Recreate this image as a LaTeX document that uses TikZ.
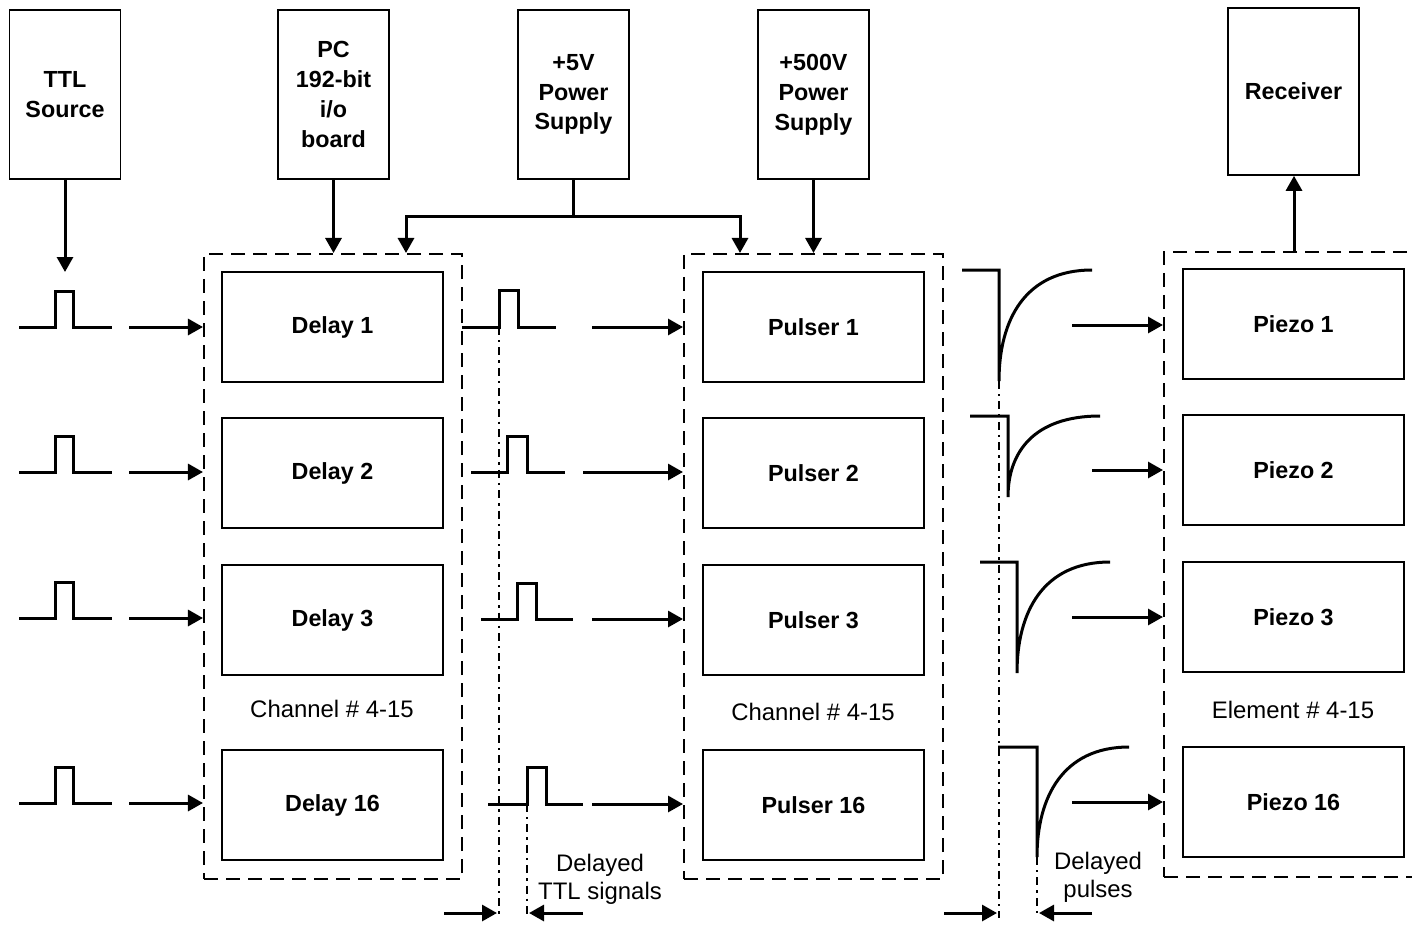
\documentclass[tikz,border=0pt]{standalone}
\usepackage{fontspec}
\setmainfont{Liberation Sans}
\usepackage{tikz}
\usetikzlibrary{arrows.meta,positioning,calc}
\tikzset{
    topbox/.style={
        rectangle, draw, line width=0.8bp, align=center,
        inner sep=0pt, minimum width=55.5bp, minimum height=84.5bp,
        font=\fontsize{11.7}{15}\selectfont\bfseries
    },
    unitbox/.style={
        rectangle, draw, line width=0.8bp, align=center,
        inner sep=0pt, outer sep=0pt, minimum width=110.5bp, minimum height=55bp,
        font=\fontsize{11.7}{15}\selectfont\bfseries
    },
    groupbox/.style={
        rectangle, draw, line width=1bp, dash pattern=on 7bp off 4bp,
        inner sep=0pt, minimum height=312.5bp
    },
    flow/.style={-{Triangle[length=7.5bp,width=8bp]}, line width=1.5bp},
    wave/.style={line width=1.5bp, line join=miter},
    timeline/.style={line width=1bp, dash pattern=on 4bp off 2.5bp on 1.2bp off 2.5bp},
    grouplbl/.style={font=\fontsize{12}{14}\selectfont, inner sep=0pt},
    notelbl/.style={font=\fontsize{12}{14}\selectfont, align=center, inner sep=0pt}
}

\begin{document}
\begin{tikzpicture}[x=0.5bp, y=-0.5bp]
        \useasboundingbox (0,0) rectangle (1412,924);
        % Sources and supplies along the top
        \node[topbox] (ttl) at (65,94.5) {TTL\\Source};
        \node[topbox] (pc) at (333.5,94.5) {PC\\192-bit\\i/o\\board};
        \node[topbox] (lv) at (573.5,94.5) {+5V\\Power\\Supply};
        \node[topbox] (hv) at (813.5,94.5) {+500V\\Power\\Supply};
        \node[topbox, minimum width=65.5bp, minimum height=83.5bp] (rx) at (1293.5,91.5) {Receiver};
        % Dashed groups
        \node[groupbox, minimum width=129bp] (gdelay) at (333,566.5) {};
        \node[groupbox, minimum width=129.5bp] (gpulser) at (813.5,566.5) {};
        \node[groupbox, minimum width=130bp] (gpiezo) at (1294,564.5) {};
        % Delay column
        \node[unitbox] (d1) at (332.5,327) {Delay 1};
        \node[unitbox, below=18bp of d1] (d2) {Delay 2};
        \node[unitbox, below=18.5bp of d2] (d3) {Delay 3};
        \node[unitbox, below=37.5bp of d3] (d4) {Delay 16};
        % Pulser column
        \node[unitbox, right=130bp of d1] (p1) {Pulser 1};
        \node[unitbox, right=130bp of d2] (p2) {Pulser 2};
        \node[unitbox, right=130bp of d3] (p3) {Pulser 3};
        \node[unitbox, right=130bp of d4] (p4) {Pulser 16};
        % Piezo column
        \node[unitbox] (z1) at (1293.5,324) {Piezo 1};
        \node[unitbox, below=18bp of z1] (z2) {Piezo 2};
        \node[unitbox, below=18.5bp of z2] (z3) {Piezo 3};
        \node[unitbox, below=37.5bp of z3] (z4) {Piezo 16};
        \node[grouplbl] (lbl1) at (332,709) {Channel \# 4-15};
        \node[grouplbl] (lbl2) at (813,712) {Channel \# 4-15};
        \node[grouplbl] (lbl3) at (1293,710) {Element \# 4-15};
        \node[notelbl] (ttlnote) at (600,879) {Delayed\\TTL signals};
        \node[notelbl] (pulsenote) at (1098,877) {Delayed\\pulses};

        % Feeds from the top
        \coordinate (ttlend) at (65,272);
        \coordinate (busl) at (406,216);
        \coordinate (busr) at (740,216);
        \draw[flow] (ttl.south) -- (ttlend);
        \draw[flow] (pc.south) -- (pc.south |- gdelay.north);
        \draw[flow] (lv.south) |- (busl) -- (busl |- gdelay.north);
        \draw[flow] (lv.south) |- (busr) -- (busr |- gpulser.north);
        \draw[flow] (hv.south) -- (hv.south |- gpulser.north);
        \draw[flow] (gpiezo.north) -- (gpiezo.north |- rx.south);

        % Input TTL pulses
        \draw[wave] (19,327) -- ++(36,0) -- ++(0,-36) -- ++(18,0) -- ++(0,36) -- ++(39,0);
        \draw[wave] (19,472) -- ++(36,0) -- ++(0,-36) -- ++(18,0) -- ++(0,36) -- ++(39,0);
        \draw[wave] (19,618) -- ++(36,0) -- ++(0,-36) -- ++(18,0) -- ++(0,36) -- ++(39,0);
        \draw[wave] (19,803) -- ++(36,0) -- ++(0,-36) -- ++(18,0) -- ++(0,36) -- ++(39,0);
        \coordinate (in1) at (129,327);
        \coordinate (in2) at (129,472);
        \coordinate (in3) at (129,618);
        \coordinate (in4) at (129,803);
        \draw[flow] (in1) -- (in1 -| gdelay.west);
        \draw[flow] (in2) -- (in2 -| gdelay.west);
        \draw[flow] (in3) -- (in3 -| gdelay.west);
        \draw[flow] (in4) -- (in4 -| gdelay.west);

        % Delayed TTL pulses
        \draw[wave] (462,327) -- (499,327) -- (499,290) -- (518,290) -- (518,327) -- (556,327);
        \draw[wave] (471,472) -- (507,472) -- (507,436) -- (527,436) -- (527,472) -- (565,472);
        \draw[wave] (481,619) -- (517,619) -- (517,583) -- (536,583) -- (536,619) -- (573,619);
        \draw[wave] (488,804) -- (527,804) -- (527,767) -- (546,767) -- (546,804) -- (583,804);
        \coordinate (mid1) at (592,327);
        \coordinate (mid2) at (583,472);
        \coordinate (mid3) at (592,619);
        \coordinate (mid4) at (592,804);
        \draw[flow] (mid1) -- (mid1 -| gpulser.west);
        \draw[flow] (mid2) -- (mid2 -| gpulser.west);
        \draw[flow] (mid3) -- (mid3 -| gpulser.west);
        \draw[flow] (mid4) -- (mid4 -| gpulser.west);
        \coordinate (ttla) at (499,327);
        \coordinate (ttlb) at (527,804);
        \draw[timeline] (ttla) -- (499,918);
        \draw[timeline] (ttlb) -- (527,918);
        \coordinate (ttlfromL) at (444,913);
        \coordinate (ttlfromR) at (583,913);
        \draw[flow, shorten >=1bp] (ttlfromL) -- (ttlfromL -| ttla);
        \draw[flow, shorten >=1bp] (ttlfromR) -- (ttlfromR -| ttlb);

        % Delayed high-voltage pulses
        \draw[wave] (962,270) -- (999,270) -- (999,381) .. controls (999,320) and (1025,270) .. (1092,270);
        \draw[wave] (970,416) -- (1008,416) -- (1008,497) .. controls (1008,452) and (1034,416) .. (1100,416);
        \draw[wave] (980,562) -- (1017,562) -- (1017,673) .. controls (1017,612) and (1043,562) .. (1110,562);
        \draw[wave] (998,747) -- (1037,747) -- (1037,857) .. controls (1037,797) and (1063,747) .. (1129,747);
        \coordinate (out1) at (1072,325);
        \coordinate (out2) at (1092,470);
        \coordinate (out3) at (1072,617);
        \coordinate (out4) at (1072,802);
        \draw[flow] (out1) -- (out1 -| gpiezo.west);
        \draw[flow] (out2) -- (out2 -| gpiezo.west);
        \draw[flow] (out3) -- (out3 -| gpiezo.west);
        \draw[flow] (out4) -- (out4 -| gpiezo.west);
        \coordinate (hva) at (999,381);
        \coordinate (hvb) at (1037,857);
        \draw[timeline] (hva) -- (999,918);
        \draw[timeline] (hvb) -- (1037,918);
        \coordinate (hvfromL) at (944,913);
        \coordinate (hvfromR) at (1092,913);
        \draw[flow, shorten >=1bp] (hvfromL) -- (hvfromL -| hva);
        \draw[flow, shorten >=1bp] (hvfromR) -- (hvfromR -| hvb);
    \end{tikzpicture}
\end{document}
